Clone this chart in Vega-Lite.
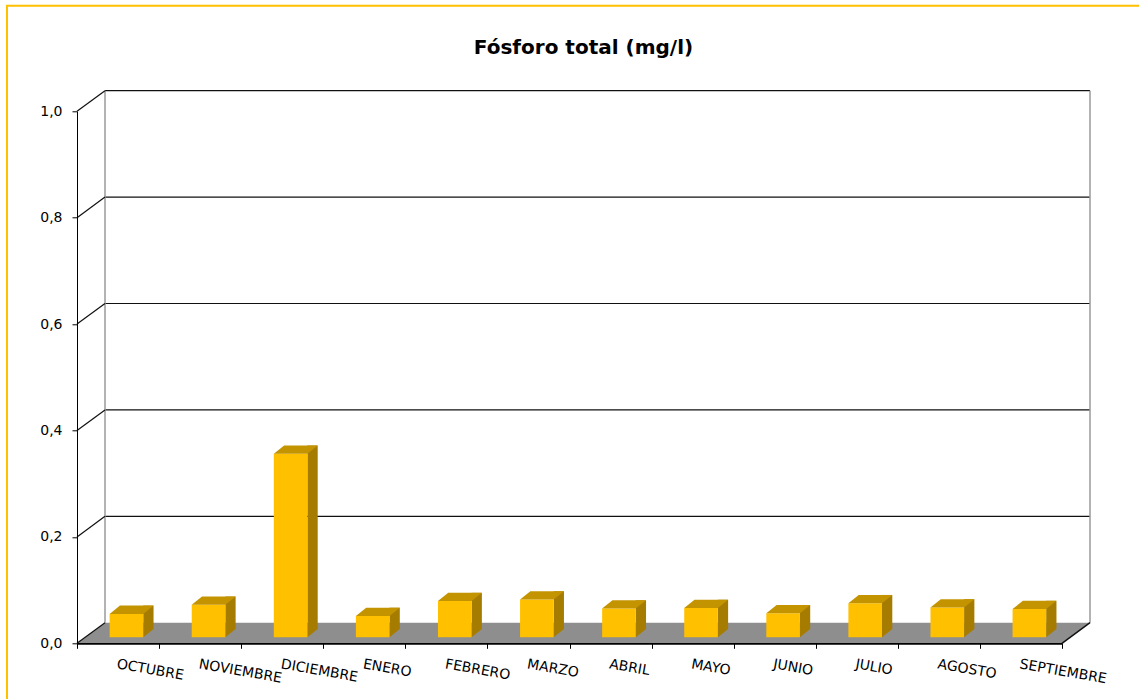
{
  "$schema": "https://vega.github.io/schema/vega-lite/v6.json",
  "autosize": "none",
  "width": 985,
  "height": 532,
  "padding": {"left": 77, "top": 111.3, "right": 77, "bottom": 55.7},
  "background": "white",
  "title": {
    "text": "Fósforo total (mg/l)",
    "font": "DejaVu Sans",
    "fontSize": 20,
    "fontWeight": "bold",
    "color": "black",
    "anchor": "middle",
    "frame": "group",
    "baseline": "alphabetic",
    "dx": 14,
    "offset": -69
  },
  "datasets": {
    "meses": [
      {"orden": 1, "mes": "OCTUBRE", "valor": 0.044},
      {"orden": 2, "mes": "NOVIEMBRE", "valor": 0.061},
      {"orden": 3, "mes": "DICIEMBRE", "valor": 0.345},
      {"orden": 4, "mes": "ENERO", "valor": 0.040},
      {"orden": 5, "mes": "FEBRERO", "valor": 0.068},
      {"orden": 6, "mes": "MARZO", "valor": 0.071},
      {"orden": 7, "mes": "ABRIL", "valor": 0.054},
      {"orden": 8, "mes": "MAYO", "valor": 0.055},
      {"orden": 9, "mes": "JUNIO", "valor": 0.045},
      {"orden": 10, "mes": "JULIO", "valor": 0.064},
      {"orden": 11, "mes": "AGOSTO", "valor": 0.056},
      {"orden": 12, "mes": "SEPTIEMBRE", "valor": 0.053}
    ],
    "escala": [{"v": 0}, {"v": 0.2}, {"v": 0.4}, {"v": 0.6}, {"v": 0.8}, {"v": 1.0}],
    "rejilla": [{"v": 0.2}, {"v": 0.4}, {"v": 0.6}, {"v": 0.8}, {"v": 1.0}],
    "unico": [{"id": 1}]
  },
  "data": {"name": "meses"},
  "layer": [
    {
      "data": {"name": "unico"},
      "mark": {"type": "rect", "fill": "transparent", "stroke": "#FFC000", "strokeWidth": 2,
               "xOffset": -70, "x2Offset": 100, "yOffset": -105.5, "y2Offset": 100},
      "encoding": {
        "x": {"datum": 0.5, "type": "quantitative"},
        "x2": {"datum": 12.5},
        "y": {"datum": 1, "type": "quantitative"},
        "y2": {"datum": 0}
      }
    },
    {
      "data": {"name": "unico"},
      "mark": {"type": "point", "filled": true, "fill": "#8E8E8E", "opacity": 1, "strokeWidth": 0,
               "shape": "M -1 0.02034 L -0.94472 -0.02034 L 1 -0.02034 L 0.94472 0.02034 Z",
               "size": 1026169, "xOffset": 14, "yOffset": -10.3},
      "encoding": {
        "x": {"datum": 6.5, "type": "quantitative"},
        "y": {"datum": 0, "type": "quantitative"}
      }
    },
    {
      "data": {"name": "rejilla"},
      "mark": {"type": "rule", "color": "#111111", "strokeWidth": 1.2,
               "xOffset": 28, "x2Offset": 28, "yOffset": -20.6},
      "encoding": {
        "x": {"datum": 0.5, "type": "quantitative"},
        "x2": {"datum": 12.5},
        "y": {"field": "v", "type": "quantitative"}
      }
    },
    {
      "data": {"name": "unico"},
      "mark": {"type": "rule", "color": "#9a9a9a", "strokeWidth": 1.5,
               "xOffset": 28, "yOffset": -20.6, "y2Offset": -20.6},
      "encoding": {
        "x": {"datum": 0.5, "type": "quantitative"},
        "y": {"datum": 0, "type": "quantitative"},
        "y2": {"datum": 1}
      }
    },
    {
      "data": {"name": "unico"},
      "mark": {"type": "rule", "color": "#9a9a9a", "strokeWidth": 1.5,
               "xOffset": 28, "yOffset": -20.6, "y2Offset": -20.6},
      "encoding": {
        "x": {"datum": 12.5, "type": "quantitative"},
        "y": {"datum": 0, "type": "quantitative"},
        "y2": {"datum": 1}
      }
    },
    {
      "data": {"name": "escala"},
      "mark": {"type": "rule", "color": "#111111", "strokeWidth": 1.2,
               "x2Offset": 28, "y2Offset": -20.6},
      "encoding": {
        "x": {"datum": 0.5, "type": "quantitative"},
        "x2": {"datum": 0.5},
        "y": {"field": "v", "type": "quantitative"},
        "y2": {"field": "v"}
      }
    },
    {
      "data": {"name": "unico"},
      "mark": {"type": "rule", "color": "#111111", "strokeWidth": 1.5,
               "x2Offset": 28, "y2Offset": -20.6},
      "encoding": {
        "x": {"datum": 12.5, "type": "quantitative"},
        "x2": {"datum": 12.5},
        "y": {"datum": 0, "type": "quantitative"},
        "y2": {"datum": 0}
      }
    },
    {
      "mark": {"type": "bar", "color": "#A67C00", "width": 10.3,
               "xOffset": 30.35, "yOffset": -14.3, "y2Offset": -14.3},
      "encoding": {
        "x": {"field": "orden", "type": "quantitative"},
        "y": {"field": "valor", "type": "quantitative"},
        "y2": {"datum": 0}
      }
    },
    {
      "mark": {"type": "point", "filled": true, "fill": "#A67C00", "opacity": 1, "strokeWidth": 0,
               "shape": "M -1 -0.806 L -1 0.806 L 1 -0.806 Z",
               "size": 106.09, "xOffset": 30.35, "yOffset": -10.15},
      "encoding": {
        "x": {"field": "orden", "type": "quantitative"},
        "y": {"datum": 0, "type": "quantitative"}
      }
    },
    {
      "mark": {"type": "bar", "color": "#FFC000", "width": 33.6,
               "xOffset": 8.4, "yOffset": -6, "y2Offset": -6},
      "encoding": {
        "x": {
          "field": "orden",
          "type": "quantitative",
          "scale": {"domain": [0.5, 12.5], "nice": false, "zero": false, "padding": 0},
          "axis": {
            "values": [0.5, 1.5, 2.5, 3.5, 4.5, 5.5, 6.5, 7.5, 8.5, 9.5, 10.5, 11.5, 12.5],
            "labels": false, "title": null, "grid": false,
            "tickSize": 5, "tickColor": "black", "domainColor": "black",
            "domainWidth": 1.8, "zindex": 1
          }
        },
        "y": {
          "field": "valor",
          "type": "quantitative",
          "scale": {"domain": [0, 1], "nice": false, "padding": 0},
          "axis": {
            "values": [0, 0.2, 0.4, 0.6, 0.8, 1.0],
            "format": ".1f",
            "labelExpr": "replace(datum.label, '.', ',')",
            "title": null, "grid": false,
            "tickSize": 5, "labelPadding": 10,
            "tickColor": "black", "domainColor": "black", "zindex": 1,
            "labelFont": "DejaVu Sans", "labelFontSize": 14, "labelColor": "black"
          }
        },
        "y2": {"datum": 0}
      }
    },
    {
      "mark": {"type": "point", "filled": true, "fill": "#C49400", "opacity": 1, "strokeWidth": 0,
               "shape": "M -1 0.18907 L -0.53075 -0.18907 L 1 -0.18907 L 0.53075 0.18907 Z",
               "size": 1927.2, "xOffset": 13.55, "yOffset": -10.15},
      "encoding": {
        "x": {"field": "orden", "type": "quantitative"},
        "y": {"field": "valor", "type": "quantitative"}
      }
    },
    {
      "mark": {"type": "text", "align": "left", "baseline": "top", "angle": 10,
               "yOffset": 14, "font": "DejaVu Sans", "fontSize": 14, "color": "black"},
      "encoding": {
        "x": {"field": "orden", "type": "quantitative"},
        "y": {"datum": 0, "type": "quantitative"},
        "text": {"field": "mes"}
      }
    }
  ],
  "config": {"view": {"stroke": null}}
}
